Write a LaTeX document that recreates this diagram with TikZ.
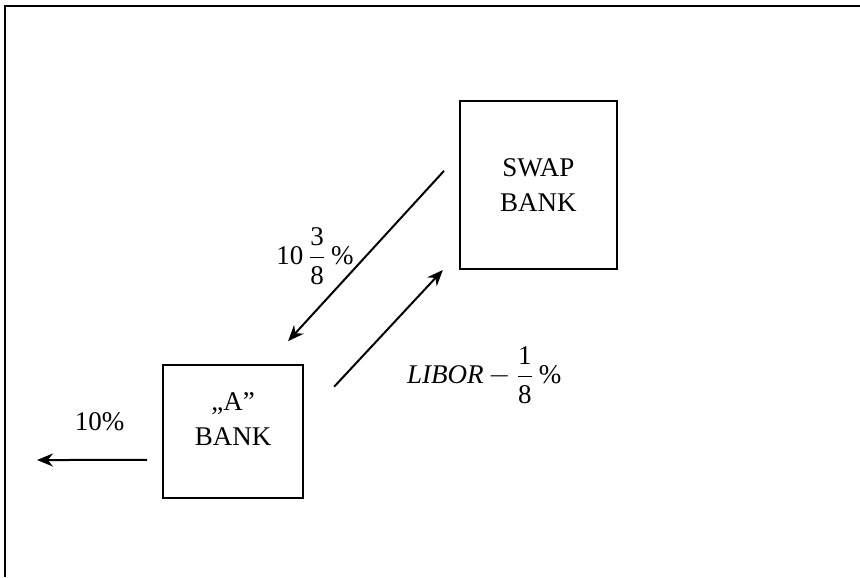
\documentclass[tikz,border=0pt]{standalone}
\usepackage{fontspec}
\usepackage{amsmath}
\setmainfont{Liberation Serif}
\usetikzlibrary{arrows.meta, positioning}

\begin{document}
\begin{tikzpicture}[
  >={Stealth[length=8pt, width=6.5pt]},
  font=\fontsize{13.5}{17.5}\selectfont,
  bank/.style={
    rectangle, draw, line width=1pt,
    align=center, inner sep=0pt,
  },
  arrow/.style={->, line width=1pt},
  rate/.style={inner sep=0pt},
]

% ── Page frame (only left and top rule)
\useasboundingbox (0,0) rectangle (15.113,-10.140);
\draw[line width=1.3pt] (0.088,-10.140) -- (0.088,-0.105) -- (15.113,-0.105);

% ── Banks
\node[bank, minimum width=2.46cm, minimum height=2.34cm, text depth=12pt]
  (abank) at (4.095,-7.583) {„A”\\BANK};

\node[bank, minimum width=2.76cm, minimum height=2.95cm,
      above right=1.65cm and 2.72cm of abank] (swapbank) {SWAP\\BANK};

% ── Swap payments
\draw[arrow] ([xshift=-0.26cm, yshift=0.25cm]swapbank.west) --
  node[rate, left=0.2cm]{$\text{10}\,\dfrac{\text{3}}{\text{8}}\,\text{\%}$}
  ([xshift=-0.28cm, yshift=0.4cm]abank.north east);
\draw[arrow] ([xshift=0.53cm, yshift=-0.4cm]abank.north east) --
  node[rate, below right=0.3cm and 0.31cm]{$\mathit{LIBOR}\,{-}\,\dfrac{\text{1}}{\text{8}}\,\text{\%}$}
  ([xshift=-0.28cm]swapbank.south west);

% ── Fixed rate out to the market
\coordinate (market) at (0.650,-8.084);
\draw[arrow] ([xshift=-0.26cm, yshift=-0.5cm]abank.west) --
  node[rate, above=0.5cm, xshift=0.13cm]{10\%} (market);

\end{tikzpicture}
\end{document}
